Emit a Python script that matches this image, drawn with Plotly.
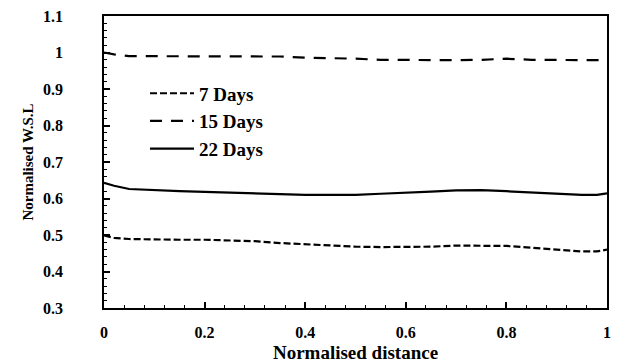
import plotly.graph_objects as go

distance = [0, 0.02, 0.05, 0.1, 0.15, 0.2, 0.25, 0.3, 0.35, 0.4, 0.45, 0.5,
            0.55, 0.6, 0.65, 0.7, 0.75, 0.8, 0.85, 0.9, 0.95, 0.98, 1.0]
days7 = [0.499, 0.492, 0.489, 0.487, 0.487, 0.487, 0.486, 0.483, 0.478, 0.474, 0.472, 0.468,
         0.467, 0.467, 0.468, 0.471, 0.471, 0.470, 0.465, 0.460, 0.455, 0.455, 0.460]
days15 = [1.0, 0.995, 0.99, 0.99, 0.99, 0.99, 0.99, 0.99, 0.989, 0.986, 0.985, 0.983,
          0.980, 0.979, 0.979, 0.979, 0.980, 0.983, 0.980, 0.979, 0.979, 0.979, 0.980]
days22 = [0.643, 0.635, 0.626, 0.622, 0.620, 0.618, 0.616, 0.613, 0.612, 0.610, 0.610, 0.610,
          0.613, 0.617, 0.619, 0.622, 0.623, 0.620, 0.616, 0.612, 0.610, 0.610, 0.614]

series_names = ["7 Days", "15 Days", "22 Days"]
x_ticks = [0, 0.2, 0.4, 0.6, 0.8, 1]
y_ticks = [0.3, 0.4, 0.5, 0.6, 0.7, 0.8, 0.9, 1.0, 1.1]

FONT = "Liberation Serif, Times New Roman, serif"

fig = go.Figure()
styles = ["7px,3px", "12px,9px", "solid"]
for name, ys, dash, g in zip(series_names, [days7, days15, days22], styles, ["a", "b", "c"]):
    fig.add_trace(go.Scatter(x=distance, y=ys, mode="lines", name=name, legendgroup=g,
                             line=dict(color="black", width=2.2, dash=dash)))

axis_common = dict(showgrid=False, zeroline=False, showline=True, linecolor="black",
                   linewidth=1.8, mirror=True, ticks="inside", tickcolor="black",
                   ticklen=6, tickwidth=1.5, automargin=False, ticklabeloverflow="allow",
                   tickfont=dict(family=FONT, size=16, color="black", weight="bold"))

fig.update_xaxes(range=[x_ticks[0], x_ticks[-1]], tickmode="linear", tick0=x_ticks[0],
                 dtick=round(x_ticks[1] - x_ticks[0], 6),
                 minor=dict(dtick=0.04, ticks="inside", ticklen=3,
                            tickcolor="black", tickwidth=1.2),
                 title=dict(text="Normalised distance", standoff=18,
                            font=dict(family=FONT, size=19, color="black", weight="bold")),
                 ticklabelstandoff=9, **axis_common)
fig.update_yaxes(range=[y_ticks[0], y_ticks[-1]], tickmode="linear", tick0=y_ticks[0],
                 dtick=round(y_ticks[1] - y_ticks[0], 6),
                 minor=dict(dtick=0.02, ticks="inside", ticklen=3,
                            tickcolor="black", tickwidth=1.2),
                 title=dict(text="Normalised W.S.L", standoff=6,
                            font=dict(family=FONT, size=15, color="black", weight="bold")),
                 ticklabelstandoff=36, **axis_common)

# The page body adds an 8px offset; compensate so the plot area lands at x 104-607, y 16-308.
fig.update_layout(
    width=616, height=355,
    margin=dict(l=96, r=17, t=8, b=55),
    paper_bgcolor="white", plot_bgcolor="white",
    showlegend=True,
    legend=dict(x=0.0815, y=0.80, xanchor="left", yanchor="top",
                bgcolor="rgba(0,0,0,0)", tracegroupgap=0, itemwidth=44,
                font=dict(family=FONT, size=19, color="black", weight="bold")),
)

fig.write_html("out.html")
